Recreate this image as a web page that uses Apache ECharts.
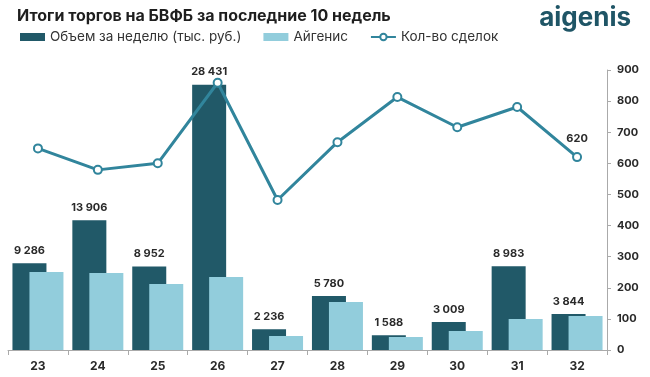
<!DOCTYPE html>
<html>
<head>
<meta charset="utf-8">
<script src="https://cdn.jsdelivr.net/npm/echarts@6/dist/echarts.min.js"></script>
<style>
  html, body { margin: 0; padding: 0; background: #fff; }
  #echart { width: 650px; height: 377px; }
</style>
</head>
<body>
<div id="echart"></div>
<script>
var weeks = ['23', '24', '25', '26', '27', '28', '29', '30', '31', '32'];
var volume = [9286, 13906, 8952, 28431, 2236, 5780, 1588, 3009, 8983, 3844];
var aigenis = [8360, 8250, 7070, 7820, 1500, 5140, 1390, 2040, 3320, 3640];
var deals = [648, 579, 600, 859, 482, 668, 813, 716, 781, 620];

var font = 'Inter, "Open Sans", sans-serif';

function fmt(v) {
    return String(v).replace(/\B(?=(\d{3})+(?!\d))/g, ' ');
}

var myChart = echarts.init(document.getElementById('echart'));

// подпись только у последней точки
var dealsData = [];
for (i = 0; i < deals.length; i++) {
    if (i == deals.length - 1) {
        dealsData.push({value: deals[i], label: {show: true}});
    } else {
        dealsData.push(deals[i]);
    }
}

var option = {
    animation: false,
    textStyle: {fontFamily: font},
    title: [{
        text: 'Итоги торгов на БВФБ за последние 10 недель',
        left: 12,
        top: 3,
        textStyle: {fontSize: 16, fontWeight: 'bold', color: '#1e1e1e', fontFamily: font}
    }, {
        text: 'aigenis',
        right: 14,
        top: 0,
        textStyle: {fontSize: 26, fontWeight: 'bold', color: '#1f5566', fontFamily: font}
    }],
    legend: {
        left: 15,
        top: 25,
        itemWidth: 25,
        itemHeight: 8,
        itemGap: 22,
        textStyle: {fontSize: 13.5, color: '#333', fontFamily: font},
        data: [
            {name: 'Объем за неделю (тыс. руб.)', icon: 'rect'},
            {name: 'Айгенис', icon: 'rect'},
            {name: 'Кол-во сделок'}
        ]
    },
    grid: {
        left: 8,
        right: 43,
        top: 70,
        bottom: 27
    },
    xAxis: {
        type: 'category',
        data: weeks,
        axisLine: {lineStyle: {color: '#aaa'}},
        axisTick: {show: true, lineStyle: {color: '#aaa'}},
        axisLabel: {fontSize: 12, fontWeight: 'bold', color: '#2a2a2a', margin: 10}
    },
    yAxis: [{
        type: 'value',
        min: 0,
        max: 30000,
        show: false
    }, {
        type: 'value',
        position: 'right',
        min: 0,
        max: 900,
        interval: 100,
        splitLine: {show: false},
        axisLine: {show: true, lineStyle: {color: '#aaa'}},
        axisTick: {show: true, inside: false, length: 4, lineStyle: {color: '#aaa'}},
        axisLabel: {fontSize: 11, fontWeight: 'bold', color: '#2a2a2a', margin: 10}
    }],
    series: [{
        name: 'Объем за неделю (тыс. руб.)',
        type: 'bar',
        yAxisIndex: 0,
        barWidth: 34,
        barGap: '-50%',
        color: '#215968',
        label: {
            show: true,
            position: 'top',
            distance: 7,
            fontSize: 11,
            fontWeight: 'bold',
            color: '#2a2a2a',
            formatter: function (p) { return fmt(p.value); }
        },
        data: volume
    }, {
        name: 'Айгенис',
        type: 'bar',
        yAxisIndex: 0,
        barWidth: 34,
        barGap: '-50%',
        color: '#92cddc',
        data: aigenis
    }, {
        name: 'Кол-во сделок',
        type: 'line',
        yAxisIndex: 1,
        color: '#31859c',
        symbol: 'circle',
        symbolSize: 8,
        itemStyle: {color: '#fff', borderColor: '#31859c', borderWidth: 2},
        lineStyle: {width: 3, color: '#31859c'},
        label: {
            show: false,
            position: 'top',
            distance: 8,
            fontSize: 11,
            fontWeight: 'bold',
            color: '#2a2a2a'
        },
        z: 5,
        data: dealsData
    }]
};

myChart.setOption(option);
</script>
</body>
</html>
